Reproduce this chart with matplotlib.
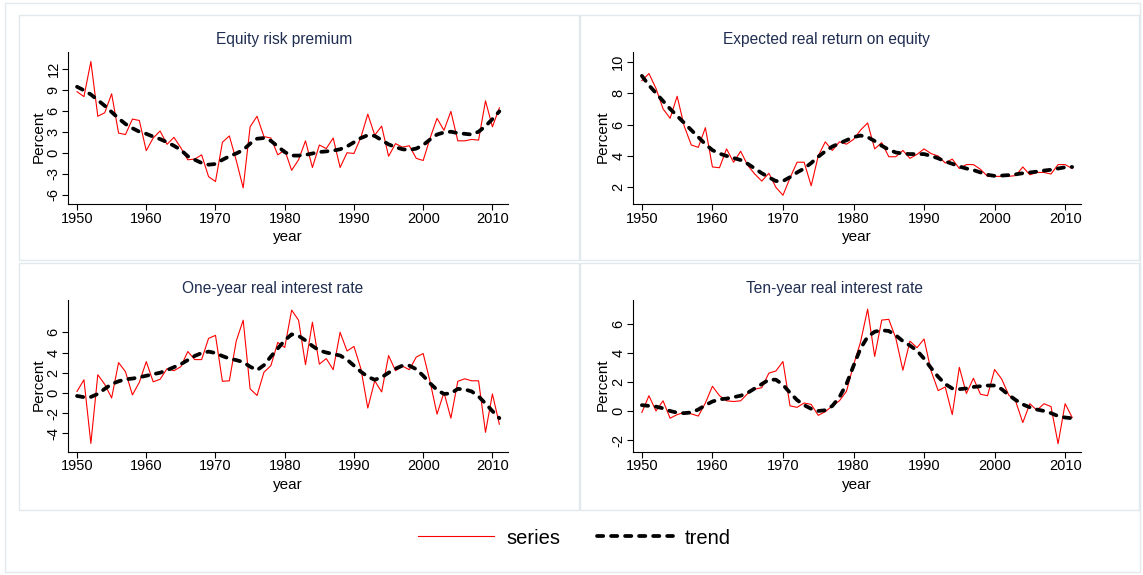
import matplotlib
matplotlib.use('Agg')
import matplotlib.pyplot as plt
from matplotlib.patches import Rectangle
from matplotlib.lines import Line2D
import numpy as np

plt.rcParams['font.family'] = ['Liberation Sans', 'DejaVu Sans']
plt.rcParams['lines.scale_dashes'] = False
plt.rcParams['axes.unicode_minus'] = False

# ---------------- data ----------------
years = np.arange(1950, 2012)

erp_series = [8.7, 8.0, 13.0, 5.2, 5.7, 8.4, 2.8, 2.6, 4.8, 4.6,
              0.3, 2.1, 3.1, 1.2, 2.2, 0.7, -1.0, -0.9, -0.3, -3.4,
              -4.1, 1.5, 2.4, -1.1, -5.0, 3.7, 5.2, 2.3, 2.1, -0.3,
              0.4, -2.5, -1.0, 1.7, -2.1, 1.1, 0.6, 2.1, -2.1, 0.0,
              -0.1, 2.2, 5.5, 2.5, 3.8, -0.5, 1.3, 0.8, 1.0, -0.8,
              -1.1, 2.1, 4.9, 3.2, 5.9, 1.7, 1.7, 1.9, 1.8, 7.4,
              3.7, 6.4]
erp_trend = [9.4, 8.9, 8.3, 7.5, 6.7, 5.8, 4.9, 4.1, 3.5, 3.0,
             2.7, 2.3, 1.95, 1.5, 1.0, 0.4, -0.5, -1.0, -1.45, -1.7,
             -1.6, -1.0, -0.5, -0.1, 0.4, 1.3, 2.0, 2.1, 1.7, 0.9,
             0.1, -0.4, -0.4, -0.3, -0.1, 0.1, 0.2, 0.3, 0.5, 0.9,
             1.5, 2.1, 2.5, 2.4, 1.8, 1.2, 0.8, 0.5, 0.4, 0.6,
             1.1, 1.9, 2.6, 2.9, 3.0, 2.8, 2.7, 2.6, 3.0, 3.8,
             4.8, 5.9]

ere_series = [8.8, 9.25, 8.3, 7.0, 6.4, 7.8, 5.9, 4.7, 4.55, 5.8,
              3.3, 3.25, 4.45, 3.6, 4.3, 3.4, 2.85, 2.4, 2.9, 2.0,
              1.5, 2.6, 3.6, 3.6, 2.1, 4.0, 4.9, 4.35, 4.9, 4.75,
              5.05, 5.65, 6.1, 4.45, 4.85, 3.95, 3.95, 4.35, 3.85, 4.1,
              4.45, 4.15, 4.0, 3.55, 3.8, 3.2, 3.45, 3.45, 3.15, 2.7,
              2.7, 2.7, 2.7, 2.75, 3.3, 2.8, 2.95, 2.95, 2.85, 3.45,
              3.45, 3.2]
ere_trend = [9.1, 8.5, 8.0, 7.5, 7.0, 6.55, 6.1, 5.65, 5.2, 4.75,
             4.37, 4.15, 4.0, 3.87, 3.74, 3.5, 3.2, 2.9, 2.64, 2.4,
             2.4, 2.65, 2.95, 3.2, 3.55, 3.95, 4.3, 4.6, 4.8, 5.0,
             5.2, 5.3, 5.2, 4.95, 4.65, 4.4, 4.22, 4.15, 4.12, 4.12,
             4.12, 4.0, 3.85, 3.65, 3.5, 3.33, 3.2, 3.1, 2.95, 2.8,
             2.73, 2.75, 2.78, 2.83, 2.9, 2.95, 3.0, 3.07, 3.12, 3.2,
             3.28, 3.3]

oyr_series = [0.15, 1.3, -5.0, 1.8, 0.85, -0.5, 3.0, 2.1, -0.2, 1.05,
              3.1, 1.1, 1.35, 2.4, 2.2, 2.6, 4.1, 3.3, 3.3, 5.4,
              5.7, 1.15, 1.2, 5.15, 7.2, 0.4, -0.25, 2.05, 2.7, 5.0,
              4.5, 8.2, 7.2, 2.8, 7.0, 2.85, 3.4, 2.3, 6.0, 4.15,
              4.6, 2.4, -1.5, 1.2, 0.1, 3.7, 2.2, 2.65, 2.3, 3.55,
              3.9, 1.1, -2.1, 0.05, -2.5, 1.15, 1.4, 1.2, 1.2, -3.9,
              -0.1, -3.1]
oyr_trend = [-0.3, -0.42, -0.4, -0.1, 0.4, 0.88, 1.15, 1.35, 1.42, 1.55,
             1.7, 1.85, 2.0, 2.25, 2.55, 2.85, 3.25, 3.66, 3.95, 4.09,
             3.95, 3.65, 3.4, 3.25, 3.05, 2.6, 2.25, 2.75, 3.6, 4.4,
             5.2, 5.8, 5.65, 5.2, 4.65, 4.2, 4.0, 3.85, 3.7, 3.3,
             2.7, 2.1, 1.6, 1.3, 1.55, 2.0, 2.4, 2.7, 2.7, 2.35,
             1.7, 0.95, 0.3, -0.1, -0.05, 0.4, 0.35, 0.15, -0.35, -1.05,
             -1.8, -2.5]

tyr_series = [-0.1, 1.05, 0.0, 0.7, -0.5, -0.25, -0.1, -0.2, -0.35, 0.55,
              1.7, 1.05, 0.7, 0.65, 0.7, 1.2, 1.5, 1.6, 2.6, 2.75,
              3.4, 0.35, 0.25, 0.55, 0.45, -0.3, -0.05, 0.35, 0.7, 1.35,
              3.15, 4.75, 7.0, 3.75, 6.25, 6.3, 5.0, 2.8, 4.8, 4.35,
              4.95, 2.75, 1.4, 1.65, -0.25, 3.0, 1.2, 2.25, 1.15, 1.05,
              2.85, 2.2, 1.1, 0.65, -0.8, 0.5, 0.05, 0.5, 0.3, -2.25,
              0.5, -0.45]
tyr_trend = [0.4, 0.35, 0.3, 0.18, 0.0, -0.12, -0.15, -0.1, 0.1, 0.4,
             0.65, 0.8, 0.85, 0.95, 1.05, 1.25, 1.55, 1.85, 2.15, 2.15,
             1.8, 1.25, 0.75, 0.4, 0.15, 0.0, 0.05, 0.35, 0.95, 1.85,
             3.1, 4.3, 5.1, 5.45, 5.55, 5.5, 5.2, 4.8, 4.5, 4.15,
             3.6, 2.95, 2.35, 1.85, 1.55, 1.5, 1.55, 1.65, 1.7, 1.75,
             1.75, 1.5, 1.1, 0.75, 0.45, 0.25, 0.1, 0.0, -0.15, -0.35,
             -0.45, -0.5]

titles = ["Equity risk premium", "Expected real return on equity",
          "One-year real interest rate", "Ten-year real interest rate"]
xticks = [1950, 1960, 1970, 1980, 1990, 2000, 2010]
yticks_list = [[-6, -3, 0, 3, 6, 9, 12], [2, 4, 6, 8, 10],
               [-4, -2, 0, 2, 4, 6], [-2, 0, 2, 4, 6]]
ylims = [(-7.3, 14.4), (0.94, 10.64), (-5.82, 9.2), (-2.8, 7.63)]
legend_labels = ["series", "trend"]

# ---------------- layout ----------------
W, H = 1143, 575
fig = plt.figure(figsize=(W / 100, H / 100), dpi=100)
fig.patch.set_facecolor('white')

def frac_rect(l, t, r, b):
    return [l / W, 1 - b / H, (r - l) / W, (b - t) / H]

border = '#e2e9ec'
def box(l, t, r, b):
    fig.patches.append(Rectangle((l / W, 1 - b / H), (r - l) / W, (b - t) / H,
                                 transform=fig.transFigure, fill=False,
                                 edgecolor=border, linewidth=1.0))

box(5, 3, 1140, 572)
box(18.5, 15, 579, 260)
box(580, 15, 1139, 260)
box(18.5, 262.5, 579, 510)
box(580, 262.5, 1139, 510)

axes_px = [(68.3, 51.7, 508, 204), (633, 51.7, 1081, 204),
           (68.3, 300, 508, 451.7), (633, 300, 1081, 451.7)]
title_px = [(284, 39.3), (826, 39.3), (273, 288.3), (835, 288.3)]
series_data = [erp_series, ere_series, oyr_series, tyr_series]
trend_data = [erp_trend, ere_trend, oyr_trend, tyr_trend]

TREND_DASH = (4.5, 5.6)
title_color = '#1f2d50'

for i in range(4):
    ax = fig.add_axes(frac_rect(*axes_px[i]))
    ax.plot(years, series_data[i], color='#ff0000', lw=0.8)
    ax.plot(years, trend_data[i], color='black', lw=2.7, dashes=TREND_DASH,
            dash_capstyle='round')
    ax.set_xlim(1948.74, 2012.25)
    ax.set_ylim(*ylims[i])
    ax.set_xticks(xticks)
    ax.set_yticks(yticks_list[i])
    for s in ['top', 'right']:
        ax.spines[s].set_visible(False)
    for s in ['left', 'bottom']:
        ax.spines[s].set_linewidth(0.8)
    ax.tick_params(axis='both', length=4, width=0.8, labelsize=10.5, pad=1.5)
    ax.tick_params(axis='y', labelrotation=90)
    for lab in ax.get_yticklabels():
        lab.set_va('center')
    ax.set_ylabel('Percent', fontsize=11, labelpad=1)
    ax.yaxis.label.set_y(0.44)
    ax.set_xlabel('year', fontsize=11, labelpad=3.5)
    tx, ty = title_px[i]
    fig.text(tx / W, 1 - ty / H, titles[i], ha='center', va='center',
             fontsize=11.2, color=title_color)

handles = [Line2D([], [], color='#ff0000', lw=0.8),
           Line2D([], [], color='black', lw=2.7, dashes=TREND_DASH,
                  dash_capstyle='round')]
fig.legend(handles=handles, labels=legend_labels, loc='center',
           bbox_to_anchor=(574.5 / W, 1 - 538 / H), ncol=2, frameon=False,
           fontsize=14.5, handlelength=3.8, handletextpad=0.6,
           columnspacing=1.8)

fig.savefig('out.png', dpi=100)
